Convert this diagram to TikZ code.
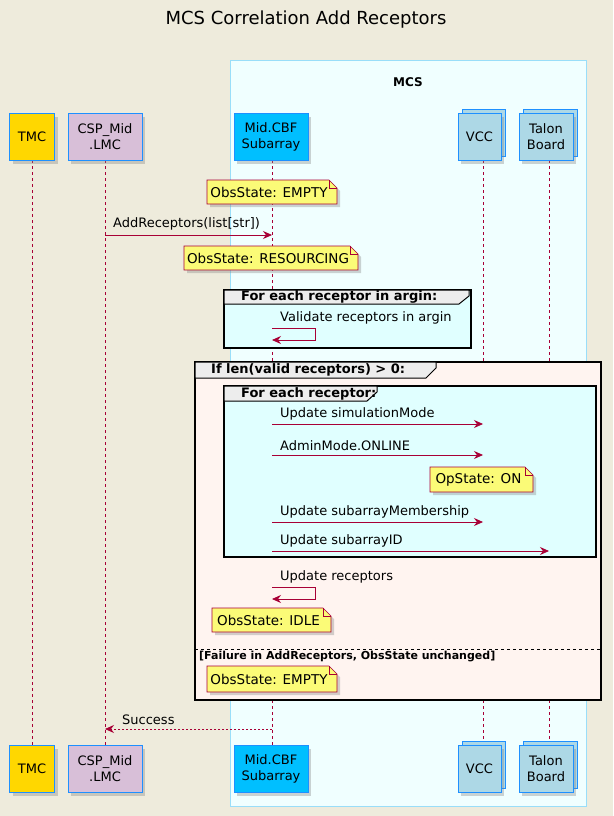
\documentclass[tikz,border=0pt]{standalone}
\usepackage{fontspec}
\setmainfont{DejaVu Sans}
\usetikzlibrary{arrows.meta,shadows}
\definecolor{bg}{HTML}{EEEBDC}
\definecolor{ln}{HTML}{A80036}
\definecolor{pb}{HTML}{1E90FF}
\definecolor{notef}{HTML}{FBFB77}
\definecolor{azure}{HTML}{F0FFFF}
\definecolor{lcyan}{HTML}{E0FFFF}
\definecolor{lblue}{HTML}{ADD8E6}
\begin{document}
\begin{tikzpicture}[x=1pt,y=-1pt,
  part/.style={draw=pb,line width=0.9pt,minimum height=47pt,align=center,font=\fontsize{13}{16}\selectfont,inner sep=2pt,drop shadow={shadow xshift=3pt,shadow yshift=-3pt,opacity=0.35}},
  life/.style={draw=ln,dashed,line width=0.6pt},
  msg/.style={draw=ln,line width=0.8pt,-{Stealth[length=9pt,width=8pt,inset=3pt]}},
  ret/.style={draw=ln,line width=0.8pt,dash pattern=on 2pt off 2pt,-{Stealth[length=9pt,width=8pt,inset=3pt]}},
  lbl/.style={font=\fontsize{13}{15}\selectfont,anchor=south west,inner sep=1pt},
  note/.style={font=\fontsize{13.5}{15}\selectfont,inner sep=0pt},
  grp/.style={draw=black,line width=1.5pt},
  ghead/.style={font=\bfseries\fontsize{13}{15}\selectfont,inner sep=0pt,anchor=west}]
\useasboundingbox (0,0) rectangle (613,816);
\fill[bg] (0,0) rectangle (613,816);
\node[font=\fontsize{18}{21}\selectfont] (title) at (306,20) {MCS Correlation Add Receptors};
\draw[draw=cyan!40!white,fill=azure,line width=0.6pt] (230,60) rectangle (586,806);
\node[font=\bfseries\fontsize{12}{14}\selectfont] (mcs) at (408,82) {MCS};
\foreach \n/\x in {a/32,b/105,c/272,d/483,e/549}{
  \coordinate (\n1) at (\x,160); \coordinate (\n2) at (\x,746);
  \draw[life] (\n1) -- (\n2);}
\foreach \y/\s in {137/t,769/u}{
\node[part,fill={rgb,255:red,255;green,215;blue,0},minimum width=45pt] (tmc\s) at (32,\y) {TMC};
\node[part,fill={rgb,255:red,216;green,191;blue,216},minimum width=74pt] (csp\s) at (105,\y) {CSP\_Mid\\.LMC};
\node[part,fill={rgb,255:red,0;green,191;blue,255},minimum width=74pt] (cbf\s) at (271,\y) {Mid.CBF\\Subarray};
\draw[draw=pb,fill=lblue,line width=0.9pt] (462,\y-23.5-4) rectangle (505,\y+23.5-4);
\node[part,fill=lblue,minimum width=43pt] (vcc\s) at (479.5,\y) {VCC};
\draw[draw=pb,fill=lblue,line width=0.9pt] (523,\y-23.5-4) rectangle (577,\y+23.5-4);
\node[part,fill=lblue,minimum width=54pt] (tal\s) at (546,\y) {Talon\\Board};
}
\newcommand{\mynote}[5]{%
  \draw[draw=ln,fill=notef,line width=0.6pt,drop shadow={shadow xshift=3pt,shadow yshift=-3pt,opacity=0.35}] (#2,#3) -- (#4-8,#3) -- (#4,#3+8) -- (#4,#5) -- (#2,#5) -- cycle;
  \draw[draw=ln,line width=0.6pt] (#4-8,#3) -- (#4-8,#3+8) -- (#4,#3+8);
  \node[note] (#1) at ({(#2+#4)/2-3},{(#3+#5)/2}) {\noteText};}
\def\noteText{ObsState: EMPTY}\mynote{n1}{207}{180}{337}{204}
\coordinate (m1a) at (105,235); \coordinate (m1b) at (272,235);
\draw[msg] (m1a) -- (m1b);
\node[lbl] (l1) at (112,231) {AddReceptors(list[str])};
\def\noteText{ObsState: RESOURCING}\mynote{n2}{184}{246}{358}{270}
\draw[grp,fill=lcyan] (224,290) rectangle (471,348);
\draw[line width=1pt,fill=black!7] (224,290) -- (469,290) -- (469,296) -- (459,304) -- (224,304) -- cycle;
\node[ghead] (g1) at (241,297) {For each receptor in argin:};
\coordinate (s1a) at (272,328); \coordinate (s1b) at (272,340);
\draw[msg] (s1a) -- (315,328) -- (315,340) -- (s1b);
\node[lbl] (l2) at (279,325) {Validate receptors in argin};
\draw[grp,fill={rgb,255:red,255;green,244;blue,240}] (195,362) rectangle (601,700);
\draw[line width=1pt,fill=black!7] (195,362) -- (436,362) -- (436,368) -- (426,378) -- (195,378) -- cycle;
\node[ghead] (g2) at (211,370) {If len(valid receptors) > 0:};
\draw[grp,fill=lcyan] (224,386) rectangle (596,557);
\draw[line width=1pt,fill=black!7] (224,386) -- (377,386) -- (377,392) -- (367,401) -- (224,401) -- cycle;
\node[ghead] (g3) at (241,394) {For each receptor:};
\coordinate (m2a) at (272,424); \coordinate (m2b) at (483,424);
\draw[msg] (m2a) -- (m2b); \node[lbl] (l3) at (279,421) {Update simulationMode};
\coordinate (m3a) at (272,455); \coordinate (m3b) at (483,455);
\draw[msg] (m3a) -- (m3b); \node[lbl] (l4) at (279,452) {AdminMode.ONLINE};
\def\noteText{OpState: ON}\mynote{n3}{430}{467}{533}{492}
\coordinate (m4a) at (272,522); \coordinate (m4b) at (483,522);
\draw[msg] (m4a) -- (m4b); \node[lbl] (l5) at (279,519) {Update subarrayMembership};
\coordinate (m5a) at (272,551); \coordinate (m5b) at (549,551);
\draw[msg] (m5a) -- (m5b); \node[lbl] (l6) at (279,548) {Update subarrayID};
\coordinate (s2a) at (272,587); \coordinate (s2b) at (272,599);
\draw[msg] (s2a) -- (315,587) -- (315,599) -- (s2b);
\node[lbl] (l7) at (279,584) {Update receptors};
\def\noteText{ObsState: IDLE}\mynote{n4}{212}{608}{331}{632}
\draw[dashed,line width=0.6pt] (195,649) -- (601,649);
\node[ghead,font=\bfseries\fontsize{11}{13}\selectfont] (g4) at (199,656) {[Failure in AddReceptors, ObsState unchanged]};
\def\noteText{ObsState: EMPTY}\mynote{n5}{207}{666}{337}{692}
\coordinate (r1a) at (272,729); \coordinate (r1b) at (105,729);
\draw[ret] (r1a) -- (r1b);
\node[lbl] (l8) at (121,726) {Success};
\end{tikzpicture}
\end{document}
